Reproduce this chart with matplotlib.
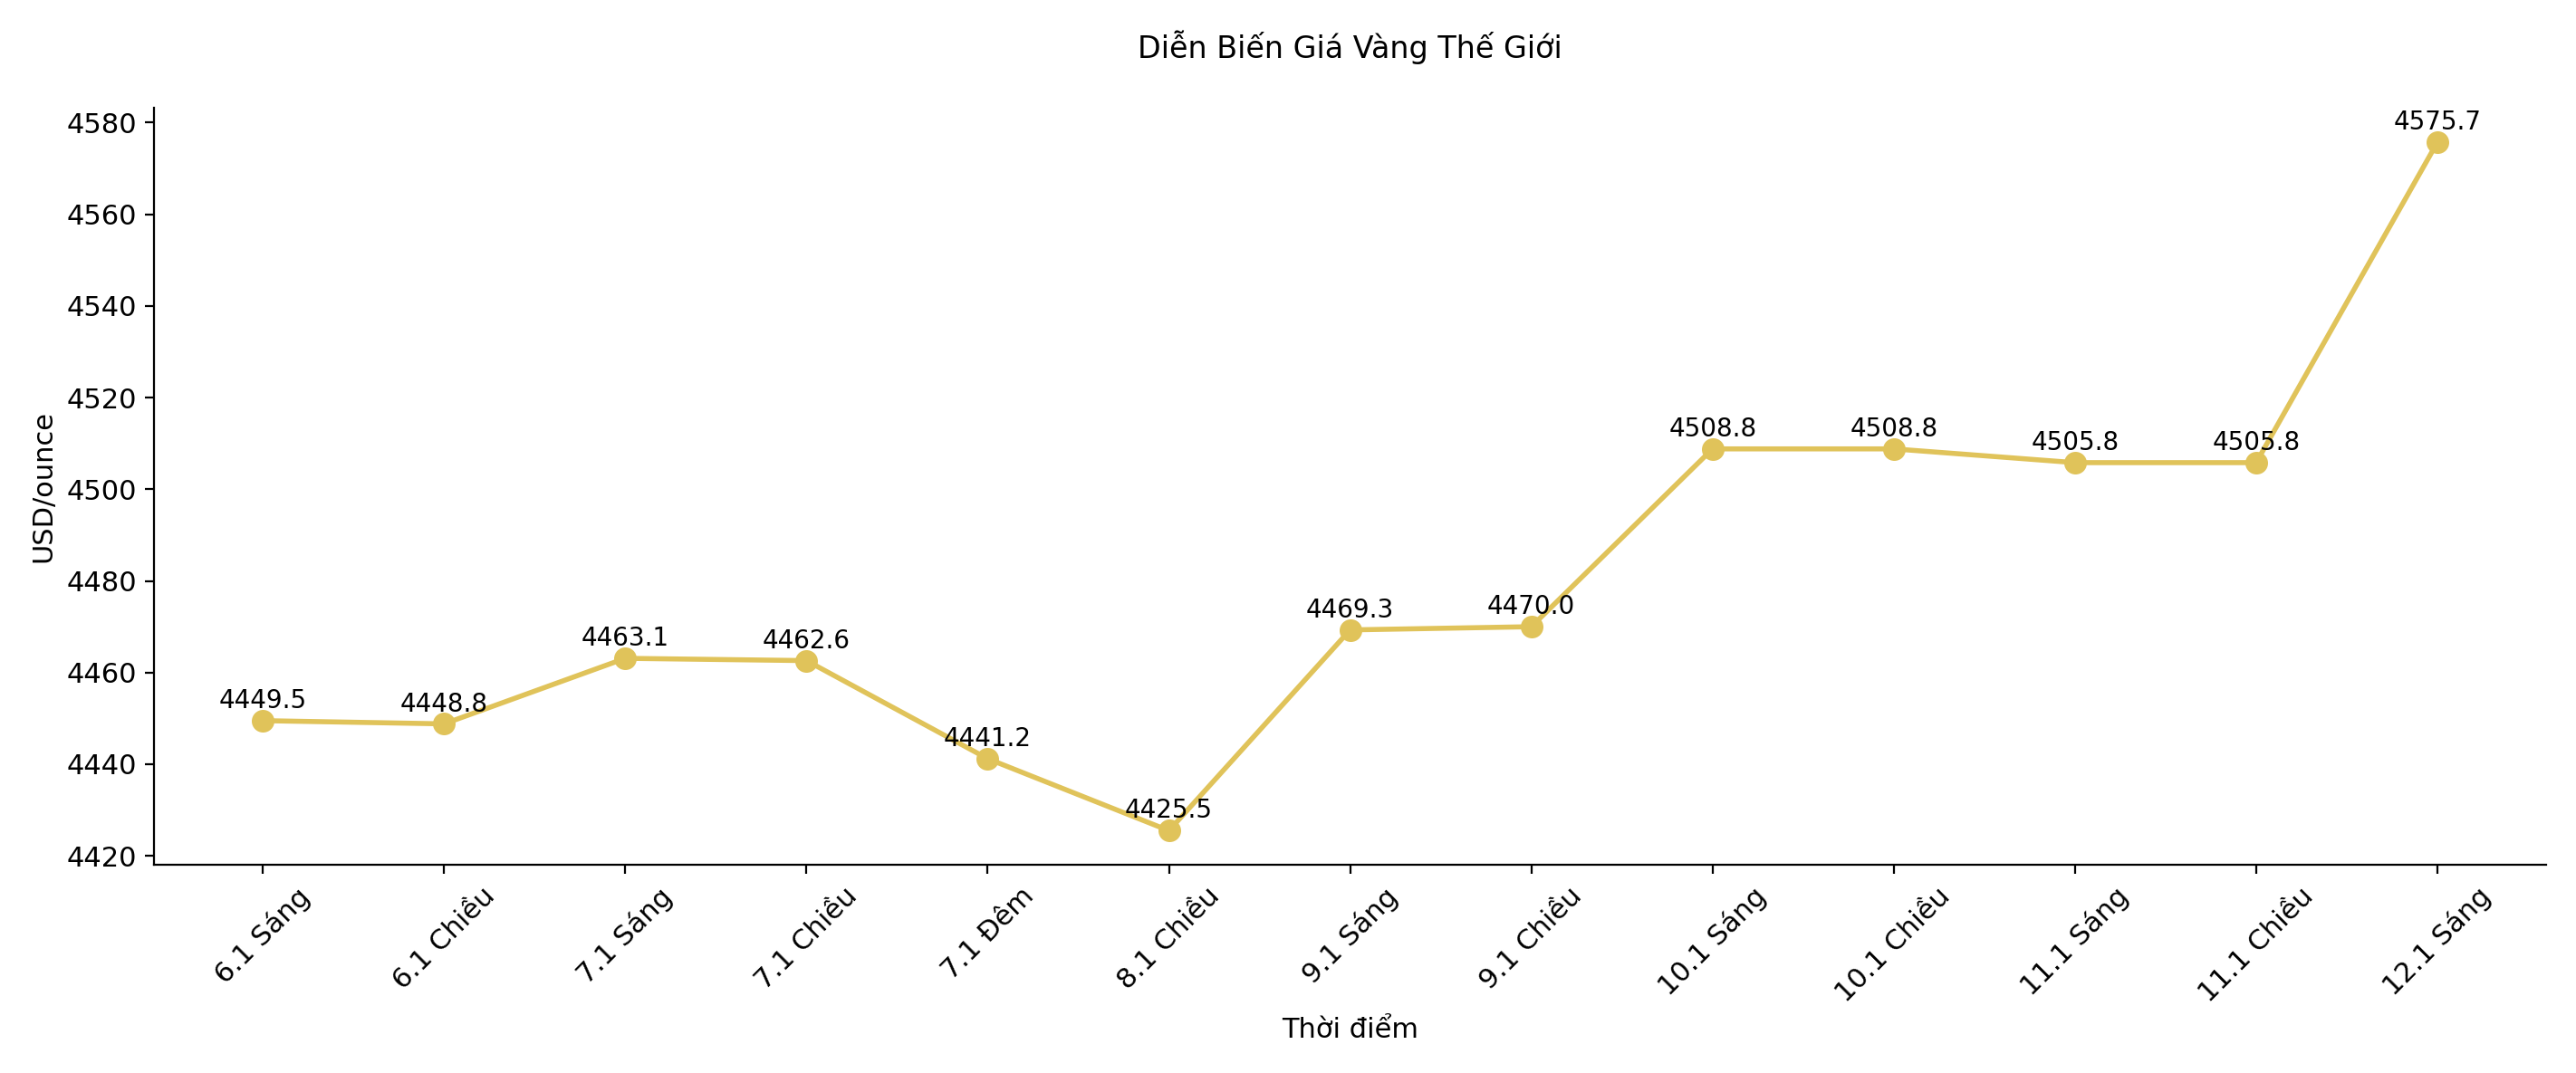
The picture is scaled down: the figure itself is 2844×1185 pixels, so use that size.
import matplotlib.pyplot as plt

labels = ['6.1 Sáng', '6.1 Chiều', '7.1 Sáng', '7.1 Chiều', '7.1 Đêm', '8.1 Chiều',
          '9.1 Sáng', '9.1 Chiều', '10.1 Sáng', '10.1 Chiều', '11.1 Sáng', '11.1 Chiều', '12.1 Sáng']
prices = [4449.5, 4448.8, 4463.1, 4462.6, 4441.2, 4425.5,
          4469.3, 4470.0, 4508.8, 4508.8, 4505.8, 4505.8, 4575.7]

plt.rcParams['font.size'] = 11
fig, ax = plt.subplots(figsize=(14.22, 5.925), dpi=200)
x = range(len(labels))
ax.plot(x, prices, color='#E0C35A', linewidth=2, marker='o', markersize=8)
for i, v in zip(x, prices):
    ax.annotate(f'{v:.1f}', (i, v), textcoords='offset points', xytext=(0, 5),
                ha='center', fontsize=10)

ax.set_xticks(list(x))
ax.set_xticklabels(labels, rotation=45)
ax.set_yticks(range(4420, 4581, 20))
ax.set_xlabel('Thời điểm')
ax.set_ylabel('USD/ounce')
ax.set_title('Diễn Biến Giá Vàng Thế Giới', pad=20, fontsize=12)
ax.spines['top'].set_visible(False)
ax.spines['right'].set_visible(False)
fig.tight_layout()
fig.savefig('out.png', dpi=200)
